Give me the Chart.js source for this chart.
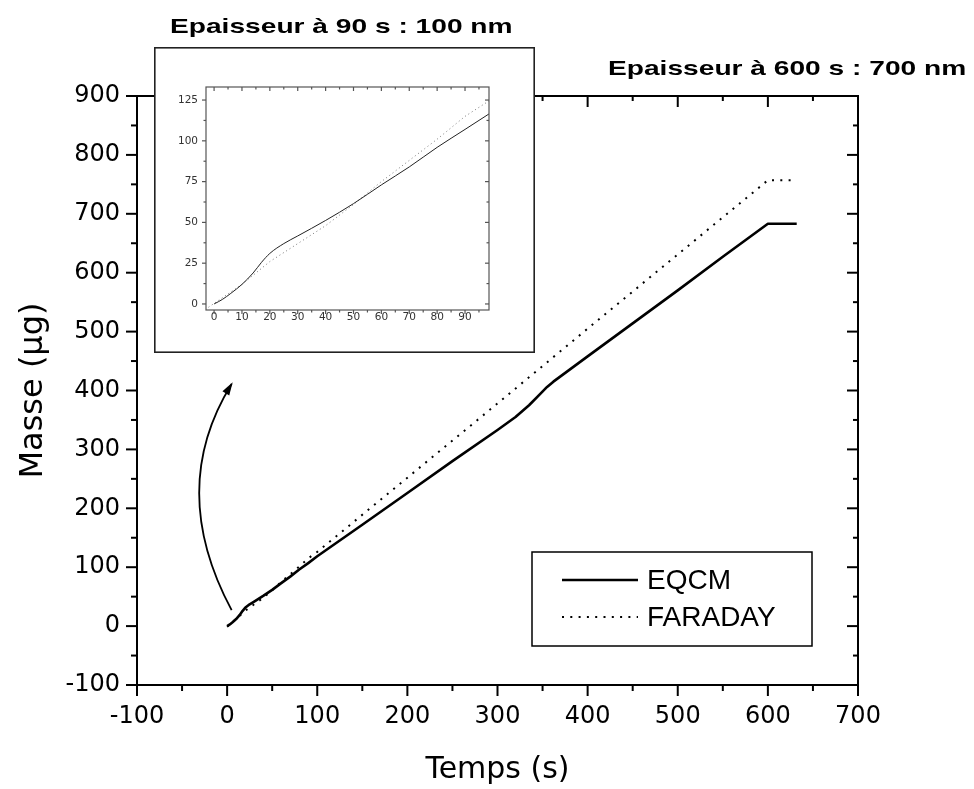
<!DOCTYPE html>
<html><head><meta charset="utf-8">
<script src="https://cdn.jsdelivr.net/npm/chart.js@4.4.1/dist/chart.umd.min.js"></script>
<style>
html,body{margin:0;padding:0;background:#fff;}
#wrap{position:relative;width:974px;height:789px;overflow:hidden;background:#fff;}
#main{position:absolute;left:0;top:0;}
#inset{position:absolute;left:154px;top:47px;background:#fff;}
.ttl{position:absolute;font-family:"Liberation Sans",Arial,sans-serif;font-weight:bold;font-size:21px;line-height:21px;white-space:nowrap;transform-origin:0 0;transform:scaleX(1.34);color:#000;}
</style></head><body>
<div id="wrap">
<canvas id="main" width="974" height="789"></canvas>
<canvas id="inset" width="381" height="306"></canvas>
<div class="ttl" id="t1" style="left:170px;top:15px;">Epaisseur à 90 s : 100 nm</div>
<div class="ttl" id="t2" style="left:608px;top:57px;">Epaisseur à 600 s : 700 nm</div>
</div>
<script>
// ---------- data (main chart) ----------
const timeEQCM = [0, 3, 6, 10, 14, 17, 20, 25, 30, 40, 50, 60, 70, 80, 90, 100, 150, 200, 250, 300, 320, 335, 348, 355, 362, 400, 450, 500, 550, 600, 632];
const massEQCM = [0, 2.8, 6.5, 12, 19, 25.5, 31, 37, 41.7, 51.2, 61.5, 73, 84, 96, 107, 118.5, 172, 226, 280, 333, 355, 375, 395, 406, 415, 458, 514, 570, 627, 683, 683];
const timeFaraday = [0, 10, 20, 30, 40, 50, 60, 70, 80, 90, 100, 200, 300, 400, 500, 600, 632];
const massFaraday = [-1, 12, 26, 37, 48, 61, 75, 88, 101, 115, 126, 252, 378, 505, 631, 757, 757];
const xTicksMain = [-100, 0, 100, 200, 300, 400, 500, 600, 700];
const yTicksMain = [-100, 0, 100, 200, 300, 400, 500, 600, 700, 800, 900];
const seriesLabels = ['EQCM', 'FARADAY'];
const xTitle = 'Temps (s)';
const yTitle = 'Masse (\u03bcg)';
// curved arrow (data units): start, control, end
const arrowPath = [[5, 27], [-67, 233], [5, 411]];

// ---------- data (inset chart) ----------
const insetTimeEQCM = [0, 3, 6, 10, 14, 17, 20, 25, 30, 40, 50, 60, 70, 80, 90, 98.6];
const insetMassEQCM = [0, 2.8, 6.5, 12, 19, 25.5, 31, 37, 41.7, 51.2, 61.5, 73, 84, 96, 107, 116.5];
const insetTimeFaraday = [-2, 10, 20, 30, 40, 50, 60, 70, 80, 90, 98.6];
const insetMassFaraday = [-2, 12, 26, 37, 48, 61, 75, 88, 101, 115, 124.5];
const xTicksInset = [0, 10, 20, 30, 40, 50, 60, 70, 80, 90];
const yTicksInset = [0, 25, 50, 75, 100, 125];

const FONT = '"Liberation Sans", Arial, sans-serif';
const WFONT = '"DejaVu Sans", "Liberation Sans", sans-serif';

function pts(xs, ys) { return xs.map((x, i) => ({x: x, y: ys[i]})); }
function minors(major, lo, hi) {
  const step = major[1] - major[0];
  const out = [];
  for (let v = major[0] - step / 2; v <= hi + 1e-9; v += step / 2) {
    if (v >= lo - 1e-9 && !major.some(m => Math.abs(m - v) < 1e-6)) out.push(v);
  }
  return out;
}

// frame with ticks on four sides
const framePlugin = {
  id: 'frame',
  afterDraw(chart, args, o) {
    const {ctx, chartArea: a, scales: {x, y}} = chart;
    ctx.save();
    ctx.strokeStyle = o.color;
    ctx.lineWidth = o.width;
    ctx.lineCap = 'butt';
    const seg = (x0, y0, x1, y1) => { ctx.beginPath(); ctx.moveTo(x0, y0); ctx.lineTo(x1, y1); ctx.stroke(); };
    const xs = o.xMajor, ys = o.yMajor;
    const xm = minors(xs, x.min, x.max), ym = minors(ys, y.min, y.max);
    const drawX = (vals, outL, inL) => vals.forEach(v => {
      if (v < x.min || v > x.max) return;
      const p = x.getPixelForValue(v);
      seg(p, a.bottom, p, a.bottom + outL);
      seg(p, a.top, p, a.top + inL);
    });
    const drawY = (vals, outL, inL) => vals.forEach(v => {
      if (v < y.min || v > y.max) return;
      const p = y.getPixelForValue(v);
      seg(a.left, p, a.left - outL, p);
      seg(a.right, p, a.right - inL, p);
    });
    drawX(xs, o.majOut, o.majIn); drawX(xm, o.minOut, o.minIn);
    drawY(ys, o.majOut, o.majIn); drawY(ym, o.minOut, o.minIn);
    ctx.strokeRect(a.left, a.top, a.right - a.left, a.bottom - a.top);
    if (o.outerBox) {
      ctx.lineWidth = o.outerBox;
      ctx.strokeStyle = o.outerColor;
      const h = o.outerBox / 2;
      ctx.strokeRect(h, h, chart.width - o.outerBox, chart.height - o.outerBox);
    }
    ctx.restore();
  }
};

const legendPlugin = {
  id: 'boxLegend',
  afterDraw(chart, args, o) {
    if (!o.show) return;
    const ctx = chart.ctx;
    ctx.save();
    ctx.fillStyle = '#fff';
    ctx.fillRect(o.x, o.y, o.w, o.h);
    ctx.strokeStyle = '#000';
    ctx.lineWidth = 1.5;
    ctx.strokeRect(o.x, o.y, o.w, o.h);
    chart.data.datasets.forEach((ds, i) => {
      const yy = o.y + o.rows[i];
      ctx.beginPath();
      ctx.setLineDash(ds.borderDash || []);
      ctx.lineWidth = ds.borderWidth;
      ctx.strokeStyle = ds.borderColor;
      ctx.moveTo(o.x + o.l0, yy);
      ctx.lineTo(o.x + o.l1, yy);
      ctx.stroke();
      ctx.setLineDash([]);
      ctx.fillStyle = '#000';
      ctx.font = o.font;
      ctx.textBaseline = 'middle';
      ctx.textAlign = 'left';
      ctx.fillText(ds.label, o.x + o.tx, yy + 1);
    });
    ctx.restore();
  }
};

const arrowPlugin = {
  id: 'curvedArrow',
  afterDraw(chart, args, o) {
    if (!o.path) return;
    const {ctx, scales: {x, y}} = chart;
    const P = o.path.map(p => [x.getPixelForValue(p[0]), y.getPixelForValue(p[1])]);
    ctx.save();
    ctx.strokeStyle = '#000';
    ctx.fillStyle = '#000';
    ctx.lineWidth = 1.8;
    ctx.beginPath();
    ctx.moveTo(P[0][0], P[0][1]);
    ctx.quadraticCurveTo(P[1][0], P[1][1], P[2][0], P[2][1]);
    ctx.stroke();
    const ang = Math.atan2(P[2][1] - P[1][1], P[2][0] - P[1][0]);
    const L = 11, W = 4;
    ctx.beginPath();
    ctx.moveTo(P[2][0] + 2 * Math.cos(ang), P[2][1] + 2 * Math.sin(ang));
    ctx.lineTo(P[2][0] - L * Math.cos(ang) + W * Math.sin(ang), P[2][1] - L * Math.sin(ang) - W * Math.cos(ang));
    ctx.lineTo(P[2][0] - L * Math.cos(ang) - W * Math.sin(ang), P[2][1] - L * Math.sin(ang) + W * Math.cos(ang));
    ctx.closePath();
    ctx.fill();
    ctx.restore();
  }
};

function setTicks(list) { return s => { s.ticks = list.map(v => ({value: v})); }; }

// ---------- main chart ----------
new Chart(document.getElementById('main'), {
  type: 'line',
  data: {
    datasets: [
      {label: seriesLabels[0], data: pts(timeEQCM, massEQCM), borderColor: '#000', borderWidth: 2.6,
       pointRadius: 0, fill: false, tension: 0, borderJoinStyle: 'round'},
      {label: seriesLabels[1], data: pts(timeFaraday, massFaraday), borderColor: '#000', borderWidth: 2,
       borderDash: [2, 6.3], pointRadius: 0, fill: false, tension: 0}
    ]
  },
  options: {
    responsive: false, animation: false, devicePixelRatio: 1,
    layout: {padding: {left: 0, right: 116, top: 96, bottom: 0}},
    plugins: {
      legend: {display: false}, tooltip: {enabled: false},
      frame: {color: '#000', width: 2, xMajor: xTicksMain, yMajor: yTicksMain, majOut: 11, minOut: 6, majIn: 11, minIn: 5},
      boxLegend: {show: true, x: 532, y: 552, w: 280, h: 94, rows: [28, 65], l0: 30, l1: 106, tx: 115, font: '28px ' + FONT},
      curvedArrow: {path: arrowPath}
    },
    scales: {
      x: {
        type: 'linear', min: -100, max: 700,
        afterBuildTicks: setTicks(xTicksMain),
        afterFit: s => { s.height = 104; },
        ticks: {font: {family: WFONT, size: 24}, color: '#000', padding: 17, maxRotation: 0, autoSkip: false,
                callback: v => String(v)},
        grid: {display: false, drawTicks: false}, border: {display: false},
        title: {display: true, text: xTitle, color: '#000', font: {family: WFONT, size: 30}, padding: {top: 0, bottom: 1}}
      },
      y: {
        type: 'linear', min: -100, max: 900,
        afterBuildTicks: setTicks(yTicksMain),
        afterFit: s => { s.width = 137; },
        ticks: {font: {family: WFONT, size: 24}, color: '#000', padding: 17, autoSkip: false,
                callback: v => String(v)},
        grid: {display: false, drawTicks: false}, border: {display: false},
        title: {display: true, text: yTitle, color: '#000', font: {family: WFONT, size: 32}, padding: {top: 14, bottom: 0}}
      }
    }
  },
  plugins: [framePlugin, legendPlugin, arrowPlugin]
});

// ---------- inset chart ----------
new Chart(document.getElementById('inset'), {
  type: 'line',
  data: {
    datasets: [
      {label: seriesLabels[0], data: pts(insetTimeEQCM, insetMassEQCM), borderColor: '#222', borderWidth: 1,
       pointRadius: 0, fill: false, cubicInterpolationMode: 'monotone'},
      {label: seriesLabels[1], data: pts(insetTimeFaraday, insetMassFaraday), borderColor: '#777', borderWidth: 1,
       borderDash: [1, 3], pointRadius: 0, fill: false}
    ]
  },
  options: {
    responsive: false, animation: false, devicePixelRatio: 1,
    layout: {padding: {left: 0, right: 46, top: 40, bottom: 0}},
    plugins: {
      legend: {display: false}, tooltip: {enabled: false},
      frame: {color: '#555', width: 1.2, xMajor: xTicksInset, yMajor: yTicksInset, majOut: 4, minOut: 2.5, majIn: 4, minIn: 2.5,
              outerBox: 1.6, outerColor: '#222'},
      boxLegend: {show: false}, curvedArrow: {path: null}
    },
    scales: {
      x: {
        type: 'linear', min: -2.9, max: 98.6,
        afterBuildTicks: setTicks(xTicksInset),
        afterFit: s => { s.height = 43; },
        ticks: {font: {family: WFONT, size: 10.5}, color: '#333', padding: 1, maxRotation: 0, autoSkip: false,
                callback: v => String(v)},
        grid: {display: false, drawTicks: false}, border: {display: false}
      },
      y: {
        type: 'linear', min: -3.7, max: 133,
        afterBuildTicks: setTicks(yTicksInset),
        afterFit: s => { s.width = 52; },
        ticks: {font: {family: WFONT, size: 10.5}, color: '#333', padding: 8, autoSkip: false,
                callback: v => String(v)},
        grid: {display: false, drawTicks: false}, border: {display: false}
      }
    }
  },
  plugins: [framePlugin]
});
</script>
</body></html>
